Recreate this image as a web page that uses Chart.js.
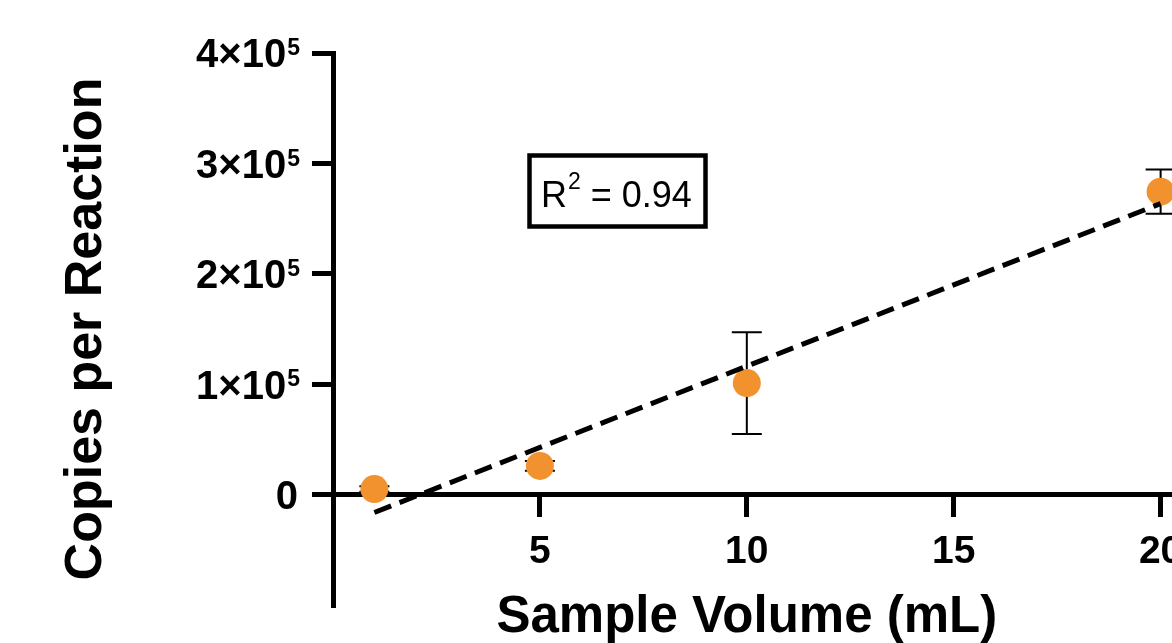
<!DOCTYPE html>
<html>
<head>
<meta charset="utf-8">
<title>Copies per Reaction vs Sample Volume</title>
<script src="https://cdn.jsdelivr.net/npm/chart.js@4"></script>
<style>
  html, body { margin: 0; padding: 0; background: #fff; overflow: hidden; }
  /* canvas is a bit larger than the window: the right / bottom edge is cropped like the original */
  #wrap { position: relative; width: 1220px; height: 660px; }
</style>
</head>
<body>
<div id="wrap"><canvas id="chart"></canvas></div>
<script>
/* ── Data ── */
const volumes  = [1, 5, 10, 20];                 // mL
const copies   = [5000, 26000, 101000, 274400];  // mean copies per reaction
const copiesSd = [2500, 4500, 46000, 20000];     // error bar half-length

// linear fit, drawn between first and last volume
const fitX = [1, 20];
const fitY = [-16200, 263600];
const rSquared = '0.94';

/* ── Tick labels ── */
const xTicks   = [5, 10, 15, 20];
const yTicks   = [0, 1e5, 2e5, 3e5, 4e5];
const yTickMain = ['0', '1×10', '2×10', '3×10', '4×10'];
const yTickSup  = ['', '5', '5', '5', '5'];

const FONT = '"Liberation Sans", Arial, Helvetica, sans-serif';
const ORANGE = '#f1922f';

Chart.defaults.font.family = FONT;
Chart.defaults.color = '#000';

/* ── error bars, drawn under the points ── */
const errorBars = {
  id: 'errorBars',
  beforeDatasetsDraw(chart) {
    const { ctx, scales: { x, y } } = chart;
    ctx.save();
    ctx.strokeStyle = '#000';
    ctx.lineWidth = 2;
    volumes.forEach((v, i) => {
      const px  = x.getPixelForValue(v);
      const top = y.getPixelForValue(copies[i] + copiesSd[i]);
      const bot = y.getPixelForValue(copies[i] - copiesSd[i]);
      ctx.beginPath();
      ctx.moveTo(px, top);      ctx.lineTo(px, bot);
      ctx.moveTo(px - 15, top); ctx.lineTo(px + 15, top);
      ctx.moveTo(px - 15, bot); ctx.lineTo(px + 15, bot);
      ctx.stroke();
    });
    ctx.restore();
  },
};

/* ── y tick labels with superscript exponent, x title, R² box ── */
const decorations = {
  id: 'decorations',
  afterDraw(chart) {
    const { ctx, scales: { x, y } } = chart;
    ctx.save();
    ctx.fillStyle = '#000';
    ctx.textBaseline = 'alphabetic';

    // y tick labels
    const right = y.right - 33;
    yTicks.forEach((v, i) => {
      const py = y.getPixelForValue(v);
      if (!yTickSup[i]) {
        ctx.font = `bold 40px ${FONT}`;
        ctx.textAlign = 'right';
        ctx.fillText(yTickMain[i], right - 2, py + 14.3);
        return;
      }
      ctx.font = `bold 23px ${FONT}`;
      ctx.textAlign = 'right';
      ctx.fillText(yTickSup[i], right, py + 2.2);
      const supW = ctx.measureText(yTickSup[i]).width;
      ctx.font = `bold 40px ${FONT}`;
      ctx.fillText(yTickMain[i], right - supW - 1, py + 14.3);
    });

    // x axis title
    ctx.font = `bold 51px ${FONT}`;
    ctx.textAlign = 'center';
    ctx.fillText('Sample Volume (mL)', x.getPixelForValue(10), y.getPixelForValue(0) + 137);

    // R² annotation box
    ctx.lineWidth = 4.5;
    ctx.strokeStyle = '#000';
    ctx.strokeRect(529.5, 155.5, 176, 71);
    ctx.textAlign = 'left';
    let tx = 541;
    ctx.font = `36px ${FONT}`;
    ctx.fillText('R', tx, 207);
    tx += ctx.measureText('R').width;
    ctx.font = `23px ${FONT}`;
    ctx.fillText('2', tx + 1, 189);
    tx += ctx.measureText('2').width + 1;
    ctx.font = `36px ${FONT}`;
    ctx.fillText(' = ' + rSquared, tx, 207);

    ctx.restore();
  },
};

/* ── Chart ── */
new Chart(document.getElementById('chart'), {
  data: {
    datasets: [
      {
        type: 'line',
        label: 'Linear fit',
        data: fitX.map((v, i) => ({ x: v, y: fitY[i] })),
        borderColor: '#000',
        borderWidth: 5,
        borderDash: [18, 9],
        pointRadius: 0,
        fill: false,
        order: 0,
      },
      {
        type: 'scatter',
        label: 'Copies',
        data: volumes.map((v, i) => ({ x: v, y: copies[i] })),
        backgroundColor: ORANGE,
        borderWidth: 0,
        pointRadius: 14,
        pointHoverRadius: 14,
        order: 1,
      },
    ],
  },
  options: {
    responsive: true,
    maintainAspectRatio: false,
    animation: false,
    events: [],
    layout: { padding: { top: 53, left: 0, right: 18, bottom: 55 } },
    plugins: {
      legend:  { display: false },
      tooltip: { enabled: false },
    },
    scales: {
      x: {
        type: 'linear',
        position: { y: 0 },
        min: 0,
        max: 21,
        afterBuildTicks: s => { s.ticks = xTicks.map(v => ({ value: v })); },
        afterFit: s => { s.height = 0; },
        border: { color: '#000', width: 5 },
        grid: {
          drawOnChartArea: false,
          color: '#000',
          lineWidth: 5,
          tickLength: 20,
          tickColor: '#000',
          tickWidth: 5,
        },
        ticks: {
          color: '#000',
          font: { size: 39, weight: 'bold' },
          padding: 14,
          maxRotation: 0,
        },
      },
      y: {
        type: 'linear',
        position: 'left',
        min: -1e5,
        max: 4e5,
        afterBuildTicks: s => { s.ticks = yTicks.map(v => ({ value: v })); },
        afterFit: s => { s.width = 333; },
        border: { color: '#000', width: 5 },
        grid: {
          drawOnChartArea: false,
          color: '#000',
          lineWidth: 5,
          tickLength: 21,
          tickColor: '#000',
          tickWidth: 5,
        },
        ticks: { display: false },
        title: {
          display: true,
          text: 'Copies per Reaction',
          color: '#000',
          font: { size: 52, weight: 'bold' },
          padding: { top: 55, bottom: 0 },
        },
      },
    },
  },
  plugins: [errorBars, decorations],
});
</script>
</body>
</html>
